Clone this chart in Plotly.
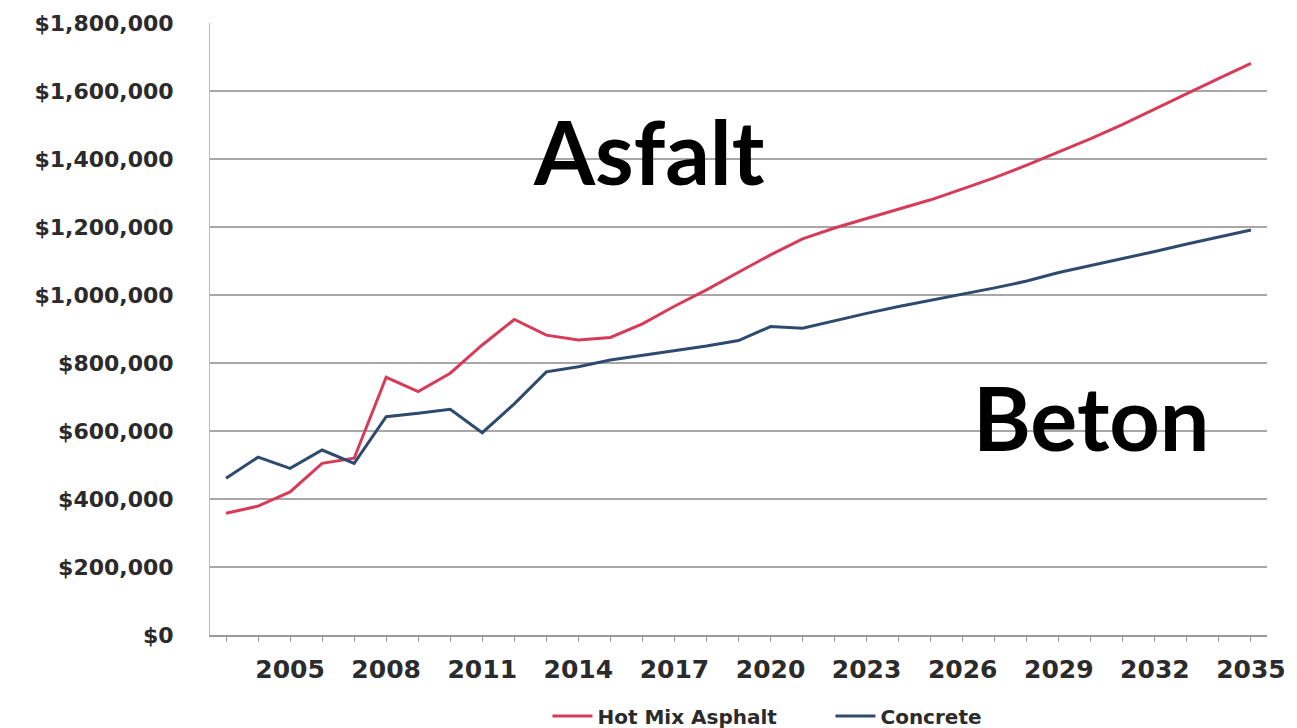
import plotly.graph_objects as go

years = list(range(2003, 2036))
asphalt = [358000, 379000, 421000, 505000, 520000, 758000, 716000, 770000, 853000, 928000,
           882000, 868000, 875000, 915000, 967000, 1015000, 1067000, 1118000, 1165000, 1197000,
           1225000, 1252000, 1280000, 1312000, 1345000, 1382000, 1420000, 1460000, 1502000,
           1548000, 1592000, 1637000, 1681000]
concrete = [461000, 523000, 490000, 544000, 505000, 642000, 652000, 664000, 595000, 680000,
            774000, 789000, 809000, 822000, 837000, 850000, 866000, 907000, 902000, 925000,
            946000, 966000, 984000, 1003000, 1021000, 1041000, 1066000, 1087000, 1107000,
            1128000, 1150000, 1170000, 1191000]
tick_years = [2005, 2008, 2011, 2014, 2017, 2020, 2023, 2026, 2029, 2032, 2035]
y_ticks = [0, 200000, 400000, 600000, 800000, 1000000, 1200000, 1400000, 1600000, 1800000]
y_labels = ["$" + format(v, ",") for v in y_ticks]

fig = go.Figure()
fig.add_trace(go.Scatter(x=years, y=asphalt, mode="lines", name="Hot Mix Asphalt",
                         line=dict(color="#d63c5a", width=3)))
fig.add_trace(go.Scatter(x=years, y=concrete, mode="lines", name="Concrete",
                         line=dict(color="#2e4a6e", width=3)))

fam = "DejaVu Sans, Liberation Sans, sans-serif"

# gridlines (no line at the top edge, as in the original)
for v in y_ticks[1:-1]:
    fig.add_shape(type="line", xref="paper", yref="y", x0=0, x1=1, y0=v, y1=v,
                  line=dict(color="#8a8a8a", width=1.5), layer="below")

fig.update_layout(
    width=1297, height=728,
    margin=dict(l=210, r=30, t=23, b=93, autoexpand=False),
    plot_bgcolor="white", paper_bgcolor="white",
    showlegend=True,
    legend=dict(orientation="h", x=0.587, xanchor="center", yref="container", y=0.0165,
                yanchor="middle",
                font=dict(family=fam, size=20, color="#2b2b2b", weight="bold"),
                itemwidth=40, entrywidth=228, entrywidthmode="pixels", tracegroupgap=0),
    xaxis=dict(range=[2002.5, 2035.5], tickvals=tick_years, ticktext=[str(t) for t in tick_years],
               tickfont=dict(family=fam, size=25, color="#2b2b2b", weight="bold"),
               showgrid=False, zeroline=False, automargin=False,
               showline=True, linecolor="#9a9a9a", linewidth=1.5,
               ticks="outside", ticklen=5, tickcolor="#9a9a9a", ticklabelstandoff=6,
               minor=dict(ticks="outside", dtick=1, tick0=2003, ticklen=5, tickcolor="#9a9a9a")),
    yaxis=dict(range=[0, 1800000], tickvals=y_ticks, ticktext=y_labels,
               tickfont=dict(family=fam, size=22, color="#2b2b2b", weight="bold"),
               showgrid=False, automargin=False,
               zeroline=False, showline=True, linecolor="#bdbdbd", linewidth=1,
               ticks="outside", ticklen=31, tickcolor="rgba(255,255,255,0)"),
)

fig.add_annotation(x=2016.2, y=1425000, xref="x", yref="y", text="<b>Asfalt</b>",
                   showarrow=False, font=dict(family="Lato, sans-serif", size=88, color="black"))
fig.add_annotation(x=2030.0, y=642000, xref="x", yref="y", text="<b>Beton</b>",
                   showarrow=False, font=dict(family="Lato, sans-serif", size=88, color="black"))

fig.write_html("out.html", config={"displayModeBar": False},
               post_script="document.body.style.margin='0';document.body.style.overflow='hidden';")
